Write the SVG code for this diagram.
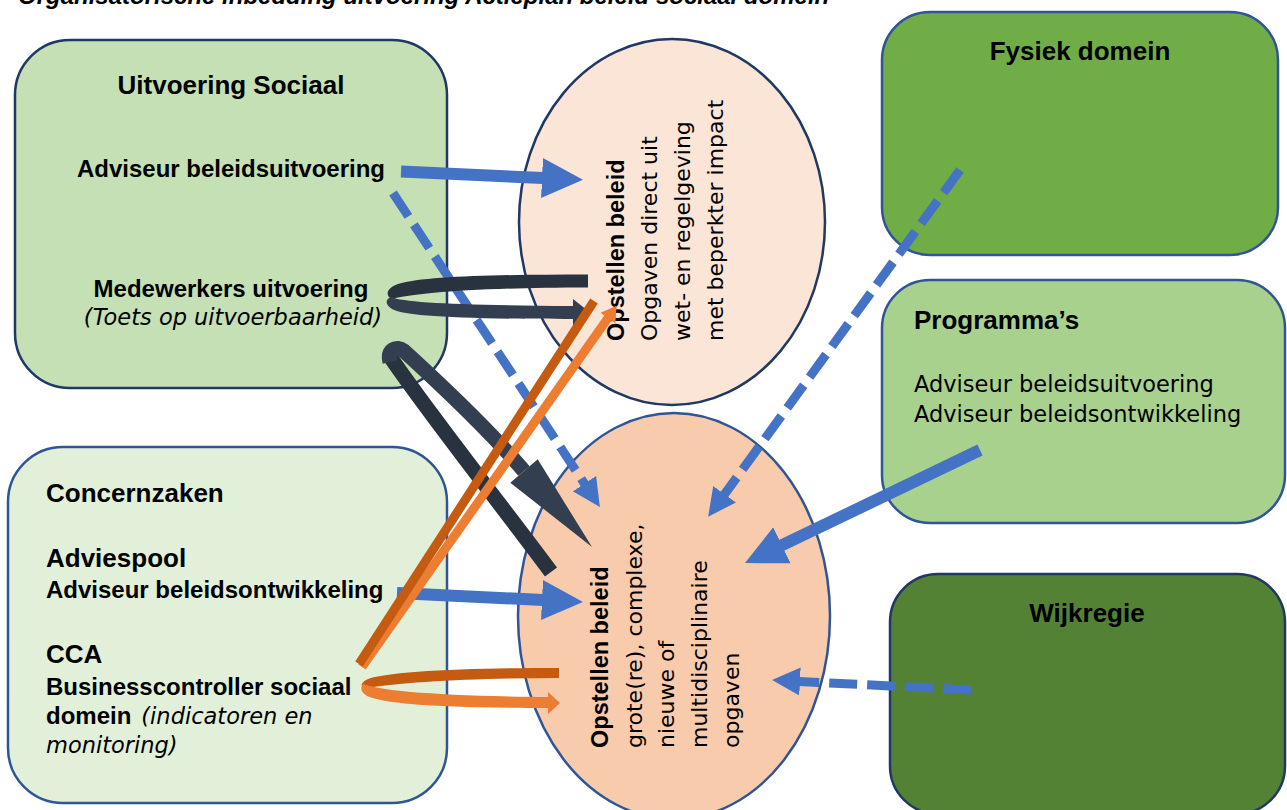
<svg xmlns="http://www.w3.org/2000/svg" width="1287" height="810" viewBox="0 0 1287 810">
<defs>
<style>
.hd{font-family:"Liberation Sans",Arial,sans-serif;font-weight:bold;font-size:26px;fill:#000}
.bd{font-family:"Liberation Sans",Arial,sans-serif;font-weight:bold;font-size:24px;fill:#000}
.rg{font-family:"DejaVu Sans",sans-serif;font-size:22.5px;fill:#000}
.it{font-family:"DejaVu Sans",sans-serif;font-style:italic;font-size:22.5px;fill:#000}
.el{font-family:"Liberation Sans",Arial,sans-serif;font-weight:bold;font-size:23.5px;fill:#000}
.er{font-family:"DejaVu Sans",sans-serif;font-size:22px;fill:#000}
.title{font-family:"Liberation Sans",Arial,sans-serif;font-weight:bold;font-style:italic;font-size:24px;fill:#000}
.box{stroke-width:2.5}
.solid{stroke:#4472C4;stroke-width:12;fill:none;marker-end:url(#hs)}
.dash{stroke:#4472C4;stroke-width:9;fill:none;stroke-dasharray:28 10;marker-end:url(#hdash)}
.dk1{fill:#29323F}
.dk2{fill:#333F50}
.or1{fill:#C55A11}
.or2{fill:#ED7D31}
</style>
<marker id="hs" markerUnits="userSpaceOnUse" viewBox="0 0 42 42" markerWidth="42" markerHeight="42" refX="1" refY="21" orient="auto">
<path d="M0,1 L41,21 L0,41 Z" fill="#4472C4"/>
</marker>
<marker id="hdash" markerUnits="userSpaceOnUse" viewBox="0 0 29 30" markerWidth="29" markerHeight="30" refX="1" refY="15" orient="auto">
<path d="M0,1 L28,15 L0,29 Z" fill="#4472C4"/>
</marker>
</defs>
<rect x="0" y="0" width="1287" height="810" fill="#FFFFFF"/>
<text class="title" x="18" y="4">Organisatorische inbedding uitvoering Actieplan beleid sociaal domein</text>

<g id="ellips-beperkt">
<ellipse cx="672" cy="222" rx="153" ry="183" fill="#FBE5D6" stroke="#203864" class="box"/>
<g transform="translate(624,341) rotate(-90)">
<text class="el" x="0" y="0">Opstellen beleid</text>
<text class="er" x="0" y="33">Opgaven direct uit</text>
<text class="er" x="0" y="66">wet- en regelgeving</text>
<text class="er" x="0" y="99">met beperkter impact</text>
</g>
</g>

<g id="ellips-complex">
<ellipse cx="674" cy="616" rx="156" ry="203" fill="#F8CBAD" stroke="#2F5597" class="box"/>
<g transform="translate(608,748) rotate(-90)">
<text class="el" x="0" y="0">Opstellen beleid</text>
<text class="er" x="0" y="34">grote(re), complexe,</text>
<text class="er" x="0" y="66">nieuwe of</text>
<text class="er" x="0" y="99">multidisciplinaire</text>
<text class="er" x="0" y="131">opgaven</text>
</g>
</g>

<g id="uitvoering-sociaal">
<rect x="15" y="40" width="432" height="348" rx="55" fill="#C5E0B4" stroke="#203864" class="box"/>
<text class="hd" x="231" y="94" text-anchor="middle">Uitvoering Sociaal</text>
<text class="bd" x="231" y="177" text-anchor="middle">Adviseur beleidsuitvoering</text>
<text class="bd" x="231" y="297" text-anchor="middle">Medewerkers uitvoering</text>
<text class="it" x="233" y="325" text-anchor="middle">(Toets op uitvoerbaarheid)</text>
</g>

<g id="concernzaken">
<rect x="8" y="447" width="439" height="356" rx="55" fill="#E2F0D9" stroke="#2F5597" class="box"/>
<text class="hd" x="46" y="502">Concernzaken</text>
<text class="hd" x="46" y="567">Adviespool</text>
<text class="bd" x="46" y="598">Adviseur beleidsontwikkeling</text>
<text class="hd" x="46" y="663">CCA</text>
<text class="bd" x="46" y="695">Businesscontroller sociaal</text>
<text x="46" y="724"><tspan class="bd">domein</tspan><tspan class="it" dx="10">(indicatoren en</tspan></text>
<text class="it" x="46" y="753">monitoring)</text>
</g>

<g id="fysiek-domein">
<rect x="882" y="12" width="396" height="243" rx="48" fill="#70AD47" stroke="#2F5597" class="box"/>
<text class="hd" x="1080" y="60" text-anchor="middle">Fysiek domein</text>
</g>

<g id="programmas">
<rect x="882" y="280" width="403" height="243" rx="48" fill="#A9D18E" stroke="#2F5597" class="box"/>
<text class="hd" x="914" y="329">Programma’s</text>
<text class="rg" x="914" y="392">Adviseur beleidsuitvoering</text>
<text class="rg" x="914" y="422">Adviseur beleidsontwikkeling</text>
</g>

<g id="wijkregie">
<rect x="890" y="574" width="395" height="240" rx="48" fill="#548235" stroke="#203864" class="box"/>
<text class="hd" x="1087" y="622" text-anchor="middle">Wijkregie</text>
</g>

<g id="connectors">
<path class="solid" d="M397,593 L543,600"/>
<path class="dash" d="M393,193 L585,484.5"/>
<path class="dk1" d="M588,274.5 C500,274.5 425,276 398,284 C386,288 385,296 392,299 C415,293 480,287.5 588,287.5 Z"/>
<path class="dk2" d="M391,297 C405,303 460,305 573,306 L573,299 L590,312.5 L573,326 L573,319 C455,319 405,316 392,309 C385,305 385,299 391,297 Z"/>
<path d="M551,572 C505,510 430,415 391,358" fill="none" stroke="#29323F" stroke-width="15"/>
<path d="M390,362 C387,350 396,345 404,351 C450,393 495,437 524,471" fill="none" stroke="#333F50" stroke-width="15"/>
<polygon class="dk2" points="510.3,482.7 537.7,459.3 592,547"/>
<polygon class="or2" points="358.3,664.4 604.3,315.4 600.6,312.8 616.6,305.7 615.4,323.2 611.7,320.6 365.7,669.6"/>
<polygon class="or1" points="355.2,661.6 590.2,298.6 597.8,303.4 362.8,666.4"/>
<path class="or1" d="M559,668 C470,668 385,671 366,680 C359,684 361,689 368,688 C400,682 480,678 559,678 Z"/>
<path class="or2" d="M364,684 C380,691 440,696 548,697 L548,692 L560,703 L548,714 L548,708 C440,708 385,704 367,696 C360,692 360,686 364,684 Z"/>
<path class="solid" d="M401,171.5 L543,178"/>
<path class="solid" d="M980,450 L781,545.7"/>
<path class="dash" d="M960,170 L724,495"/>
<path class="dash" d="M971,690 L799,681.4"/>
</g>
</svg>
